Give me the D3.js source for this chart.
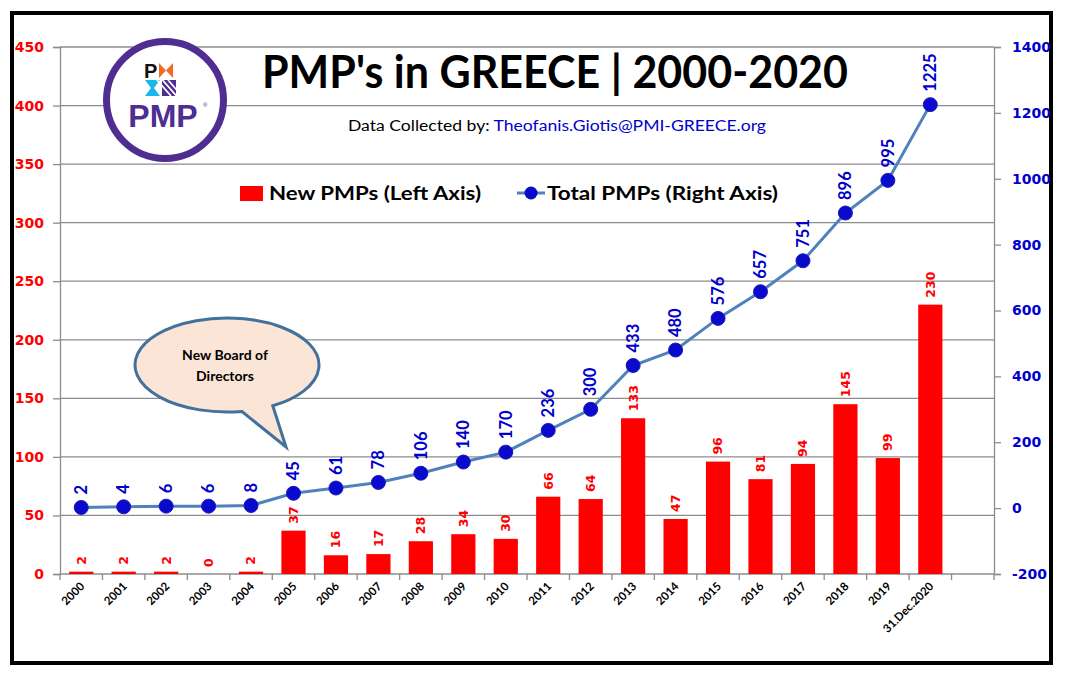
<!DOCTYPE html>
<html>
<head>
<meta charset="utf-8">
<script src="https://cdn.jsdelivr.net/npm/d3@7"></script>
<style>
  html, body { margin: 0; padding: 0; background: #fff; }
  svg { display: block; }
</style>
</head>
<body>
<svg id="chart" width="1065" height="676"></svg>
<script>
const categories = ["2000","2001","2002","2003","2004","2005","2006","2007","2008","2009","2010","2011","2012","2013","2014","2015","2016","2017","2018","2019","31.Dec.2020"];
const newPMPs   = [2,2,2,0,2,37,16,17,28,34,30,66,64,133,47,96,81,94,145,99,230];
const totalPMPs = [2,4,6,6,8,45,61,78,106,140,170,236,300,433,480,576,657,751,896,995,1225];
const leftTicks  = [0,50,100,150,200,250,300,350,400,450];
const rightTicks = [-200,0,200,400,600,800,1000,1200,1400];

const svg = d3.select("#chart");
const m = {left: 60, right: 994, top: 47, bottom: 574};

// outer frame
svg.append("rect").attr("x", 12).attr("y", 13).attr("width", 1039).attr("height", 650)
  .attr("fill", "#fff").attr("stroke", "#000").attr("stroke-width", 4);

const domainCats = categories.concat([" "]);
const x = d3.scaleBand().domain(domainCats).range([m.left, m.right]).paddingInner(0.43).paddingOuter(0.215);
const xOuter = d3.scaleBand().domain(domainCats).range([m.left, m.right]);
const yL = d3.scaleLinear().domain([0, 450]).range([m.bottom, m.top]);
const yR = d3.scaleLinear().domain([-200, 1400]).range([m.bottom, m.top]);
const cxOf = c => xOuter(c) + xOuter.bandwidth() / 2;

const gray = "#8c8c8c";

// gridlines
svg.append("g").selectAll("line").data(leftTicks.filter(d => d > 0)).join("line")
  .attr("x1", m.left).attr("x2", m.right)
  .attr("y1", d => yL(d)).attr("y2", d => yL(d))
  .attr("stroke", gray).attr("stroke-width", 1.3);

// left axis
const gL = svg.append("g").attr("transform", `translate(${m.left},0)`)
  .call(d3.axisLeft(yL).tickValues(leftTicks).tickFormat(d => String(d)).tickSize(7).tickPadding(9));
gL.select(".domain").attr("stroke", gray).attr("stroke-width", 1.3);
gL.selectAll(".tick line").attr("stroke", gray).attr("stroke-width", 1.3);
gL.selectAll(".tick text").attr("fill", "#ff0000").attr("font-family", "DejaVu Sans")
  .attr("font-weight", "bold").attr("font-size", 14);

// right axis
const gR = svg.append("g").attr("transform", `translate(${m.right},0)`)
  .call(d3.axisRight(yR).tickValues(rightTicks).tickFormat(d => String(d)).tickSize(7).tickPadding(11));
gR.select(".domain").attr("stroke", gray).attr("stroke-width", 1.3);
gR.selectAll(".tick line").attr("stroke", gray).attr("stroke-width", 1.3);
gR.selectAll(".tick text").attr("fill", "#0000cc").attr("font-family", "DejaVu Sans")
  .attr("font-weight", "bold").attr("font-size", 14);

// x axis (ticks at category boundaries)
const gX = svg.append("g").attr("transform", `translate(0,${m.bottom})`);
gX.append("line").attr("x1", m.left).attr("x2", m.right).attr("y1", 0).attr("y2", 0)
  .attr("stroke", gray).attr("stroke-width", 1.3);
const bounds = domainCats.map(c => xOuter(c)).concat([m.right]);
gX.selectAll("line.tk").data(bounds).join("line").attr("class", "tk")
  .attr("x1", d => d).attr("x2", d => d).attr("y1", 0).attr("y2", 6)
  .attr("stroke", gray).attr("stroke-width", 1.3);
gX.selectAll("text").data(categories).join("text")
  .attr("transform", d => `translate(${cxOf(d) + 4},${13}) rotate(-45)`)
  .attr("text-anchor", "end")
  .attr("font-family", "Lato").attr("font-weight", "bold").attr("font-size", 11.5)
  .attr("fill", "#000").text(d => d);

// bars
svg.append("g").selectAll("rect").data(categories).join("rect")
  .attr("x", d => x(d)).attr("width", x.bandwidth())
  .attr("y", (d, i) => yL(newPMPs[i])).attr("height", (d, i) => yL(0) - yL(newPMPs[i]))
  .attr("fill", "#ff0000");

// bar labels
svg.append("g").selectAll("text").data(categories).join("text")
  .attr("transform", (d, i) => `translate(${cxOf(d)},${yL(newPMPs[i]) - 7}) rotate(-90)`)
  .attr("dy", "0.35em")
  .attr("font-family", "DejaVu Sans").attr("font-weight", "bold").attr("font-size", 12.5)
  .attr("fill", "#ff0000").text((d, i) => newPMPs[i]);

// line
const line = d3.line()
  .x((d, i) => cxOf(categories[i]))
  .y(d => yR(d));
svg.append("path").datum(totalPMPs).attr("d", line)
  .attr("fill", "none").attr("stroke", "#4f81bd").attr("stroke-width", 3);
svg.append("g").selectAll("circle").data(totalPMPs).join("circle")
  .attr("cx", (d, i) => cxOf(categories[i]))
  .attr("cy", d => yR(d)).attr("r", 7)
  .attr("fill", "#0a0acc").attr("stroke", "#1a1ab8").attr("stroke-width", 1);
svg.append("g").selectAll("text").data(totalPMPs).join("text")
  .attr("transform", (d, i) => `translate(${cxOf(categories[i])},${yR(d) - 13}) rotate(-90)`)
  .attr("dy", "0.35em")
  .attr("font-family", "Lato").attr("font-weight", "bold").attr("font-size", 16.5)
  .attr("fill", "#0000cc").text(d => d);

// title
svg.append("text").attr("x", 555).attr("y", 88).attr("text-anchor", "middle")
  .attr("font-family", "Lato").attr("font-weight", "bold").attr("font-size", 46)
  .attr("textLength", 586).attr("lengthAdjust", "spacingAndGlyphs")
  .attr("fill", "#000").text("PMP's in GREECE | 2000-2020");

// subtitle
const sub = svg.append("text").attr("x", 348).attr("y", 131)
  .attr("font-family", "Lato").attr("font-size", 15.5)
  .attr("textLength", 418).attr("lengthAdjust", "spacingAndGlyphs");
sub.append("tspan").attr("fill", "#000").text("Data Collected by: ");
sub.append("tspan").attr("fill", "#0000cc").text("Theofanis.Giotis@PMI-GREECE.org");

// legend
const lg = svg.append("g").attr("font-family", "Lato").attr("font-weight", "bold").attr("font-size", 19.5);
lg.append("rect").attr("x", 240).attr("y", 186).attr("width", 23).attr("height", 15).attr("fill", "#ff0000");
lg.append("text").attr("x", 269).attr("y", 200).attr("textLength", 212).attr("lengthAdjust", "spacingAndGlyphs")
  .text("New PMPs (Left Axis)");
lg.append("line").attr("x1", 517).attr("x2", 545).attr("y1", 193).attr("y2", 193)
  .attr("stroke", "#4f81bd").attr("stroke-width", 3);
lg.append("circle").attr("cx", 531).attr("cy", 193).attr("r", 6.5).attr("fill", "#0a0acc");
lg.append("text").attr("x", 547).attr("y", 200).attr("textLength", 231).attr("lengthAdjust", "spacingAndGlyphs")
  .text("Total PMPs (Right Axis)");

// callout
const cx0 = 227, cy0 = 365, rx = 92, ry = 47;
const tip = [286, 447];
const a1 = 1.41, a2 = 1.05; // angles (radians) where tail attaches
const p1 = [cx0 + rx*Math.cos(a1), cy0 + ry*Math.sin(a1)];
const p2 = [cx0 + rx*Math.cos(a2), cy0 + ry*Math.sin(a2)];
const calloutPath = `M${p2[0]},${p2[1]} A${rx},${ry} 0 1 0 ${p1[0]},${p1[1]} L${tip[0]},${tip[1]} Z`;
svg.append("path").attr("d", calloutPath)
  .attr("fill", "#fbe5d6").attr("stroke", "#41719c").attr("stroke-width", 3).attr("stroke-linejoin", "miter");
svg.append("text").attr("x", 225).attr("y", 360).attr("text-anchor", "middle")
  .attr("font-family", "Lato").attr("font-weight", "bold").attr("font-size", 14).text("New Board of");
svg.append("text").attr("x", 225).attr("y", 381).attr("text-anchor", "middle")
  .attr("font-family", "Lato").attr("font-weight", "bold").attr("font-size", 14).text("Directors");

// PMP logo
const logo = svg.append("g");
logo.append("circle").attr("cx", 165).attr("cy", 100).attr("r", 58.5)
  .attr("fill", "#fff").attr("stroke", "#4f2d91").attr("stroke-width", 7);
logo.append("text").attr("x", 144).attr("y", 78).attr("font-family", "Liberation Sans")
  .attr("font-weight", "bold").attr("font-size", 20).attr("fill", "#111").text("P");
// orange bow
logo.append("path").attr("d", "M159,63 L166,70.5 L159,78 Z").attr("fill", "#f26b21");
logo.append("path").attr("d", "M173,63 L166,70.5 L173,78 Z").attr("fill", "#f26b21");
// cyan hourglass
logo.append("path").attr("d", "M145,80 L160,80 L154,88 L160,96 L145,96 L151,88 Z").attr("fill", "#1ab7ea");
// purple striped square
logo.append("rect").attr("x", 162).attr("y", 80).attr("width", 14).attr("height", 16).attr("fill", "#4f2d91");
[0, 5.5, 11].forEach(o => {
  logo.append("line").attr("x1", 162 + o - 5).attr("y1", 80).attr("x2", 162 + o + 9).attr("y2", 96)
    .attr("stroke", "#fff").attr("stroke-width", 1.8);
});
logo.append("rect").attr("x", 176).attr("y", 78).attr("width", 6).attr("height", 20).attr("fill", "#fff");
logo.append("text").attr("x", 163).attr("y", 127).attr("text-anchor", "middle").attr("font-family", "Liberation Sans")
  .attr("font-weight", "bold").attr("font-size", 32).attr("fill", "#4f2d91").text("PMP");
logo.append("text").attr("x", 203).attr("y", 107).attr("font-family", "Liberation Sans")
  .attr("font-size", 6).attr("fill", "#4f2d91").text("®");
</script>
</body>
</html>
